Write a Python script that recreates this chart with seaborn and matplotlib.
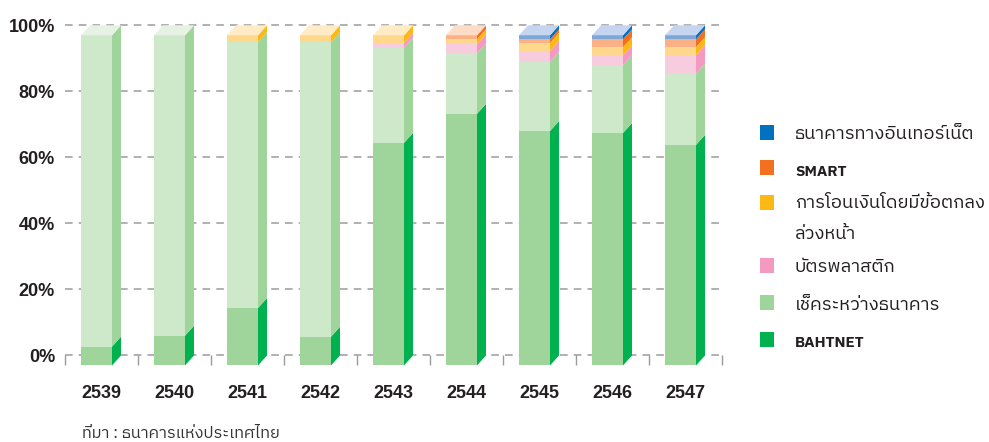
import numpy as np
import pandas as pd
import matplotlib
matplotlib.use("Agg")
import matplotlib.pyplot as plt
from matplotlib import font_manager
from matplotlib.ft2font import FT2Font
from matplotlib.patches import Polygon, Rectangle
import seaborn as sns

# Share of interbank payment value by system (percent of total)
years = ["2539", "2540", "2541", "2542", "2543", "2544", "2545", "2546", "2547"]
bahtnet = [5.7, 9.0, 17.4, 8.7, 67.4, 76.2, 71.0, 70.4, 66.8]
cheque = [94.3, 91.0, 80.6, 89.2, 28.8, 18.3, 21.0, 20.6, 21.6]
plastic = [0.0, 0.0, 0.0, 0.0, 1.4, 2.8, 3.2, 2.9, 5.6]
transfer = [0.0, 0.0, 2.0, 2.1, 2.4, 1.5, 2.5, 2.5, 2.4]
smart = [0.0, 0.0, 0.0, 0.0, 0.0, 1.2, 1.1, 2.4, 2.4]
internet = [0.0, 0.0, 0.0, 0.0, 0.0, 0.0, 1.2, 1.2, 1.2]

labels = ["BAHTNET", "เช็คระหว่างธนาคาร", "บัตรพลาสติก",
          ["การโอนเงินโดยมีข้อตกลง", "ล่วงหน้า"], "SMART", "ธนาคารทางอินเทอร์เน็ต"]
source_note = "ที่มา : ธนาคารแห่งประเทศไทย"

# bottom-to-top stacking order
stack = [bahtnet, cheque, plastic, transfer, smart, internet]
side_colors = ["#00B14F", "#9FD49B", "#F49AC1", "#FDB913", "#F37021", "#0070C0"]
front_colors = ["#9FD49B", "#CEE8CA", "#F8CCDF", "#FFD88C", "#FBB185", "#7BA7D9"]
top_colors = ["#CFE9CB", "#E6F3E4", "#FCE3EE", "#FFEBC6", "#FDDCC6", "#C5D5EF"]


def thai_family():
    found = []
    for fe in font_manager.fontManager.ttflist:
        try:
            cmap = FT2Font(fe.fname).get_charmap()
        except Exception:
            continue
        if 0x0E01 in cmap and 0x0E44 in cmap and 0x0E2A in cmap:
            score = 0
            if "thai" in fe.name.lower():
                score += 2
            if fe.weight in (400, "normal", "regular"):
                score += 1
            if fe.style == "normal":
                score += 1
            found.append((score, fe.name))
    if found:
        found.sort(key=lambda t: -t[0])
        return found[0][1]
    return None


sns.set_theme(style="white")
thai = thai_family()
latin = "Liberation Sans"
fams = ([thai] if thai else []) + [latin, "DejaVu Sans"]
plt.rcParams["font.family"] = [latin, "DejaVu Sans"]

TXT = "#231F20"
W, H = 989, 442
fig = plt.figure(figsize=(W / 100, H / 100), dpi=100)
ax = fig.add_axes([64.5 / W, 1 - 368.7 / H, 657 / W, (368.7 - 22.0) / H])

FW = 31 / 73      # front face width (category units)
DX = 9 / 73       # depth offset in x
DY = 10 / 3.302   # depth offset in y (percent units)

cum = np.cumsum(np.array(stack), axis=0)
n = len(years)

# front faces: overlapping cumulative bars, top segment first
for k in reversed(range(len(stack))):
    df = pd.DataFrame({"year": years, "value": cum[k]})
    sns.barplot(data=df, x="year", y="value", color=front_colors[k], width=FW,
                saturation=1, errorbar=None, linewidth=0, zorder=2, ax=ax)
    for p in ax.containers[-1]:
        p.set_x(p.get_x() - DX / 2)
        p.set_y(-DY)

# side and top faces
for i in range(n):
    left = i - (FW + DX) / 2
    xr = left + FW
    top_k = max(k for k in range(len(stack)) if stack[k][i] > 0)
    for k in range(len(stack)):
        if stack[k][i] <= 0:
            continue
        b = cum[k][i] - stack[k][i]
        t = cum[k][i]
        ax.add_patch(Polygon([(xr, b - DY), (xr, t - DY), (xr + DX, t), (xr + DX, b)],
                             closed=True, facecolor=side_colors[k], edgecolor="none",
                             zorder=2, clip_on=False))
    tot = cum[-1][i]
    ax.add_patch(Polygon([(left, tot - DY), (xr, tot - DY), (xr + DX, tot), (left + DX, tot)],
                         closed=True, facecolor=top_colors[top_k], edgecolor="none",
                         zorder=2, clip_on=False))

ax.set_xlim(-0.5, n - 0.5)
ax.set_ylim(-4, 101)
ax.set_yticks(range(0, 101, 20))
ax.set_yticklabels([f"{v}%" for v in range(0, 101, 20)])
ax.set_xlabel("")
ax.set_ylabel("")
ax.set_axisbelow(True)
ax.grid(False)
ax.yaxis.grid(True, color="#9b9b9b", linestyle=(0, (5, 4)), linewidth=1.1, zorder=0.5)
ax.vlines(np.arange(-0.5, n), -2.9, 0, color="#9b9b9b", linewidth=1.0,
          zorder=0.5, clip_on=False)
for s in ax.spines.values():
    s.set_visible(False)
ax.tick_params(axis="y", length=0, pad=6.8, labelsize=13, labelcolor=TXT)
ax.tick_params(axis="x", length=0, pad=12, labelsize=13, labelcolor=TXT)
for lab in ax.get_yticklabels() + ax.get_xticklabels():
    lab.set_fontweight("bold")
ax.set_facecolor("white")

# legend
rows = [  # (series index, square centre y, text baselines y)
    (5, 132.5, [139.0]),
    (4, 167.5, [176.0]),
    (3, 202.5, [207.5, 239.0]),
    (2, 265.5, [272.5]),
    (1, 302.5, [310.0]),
    (0, 339.5, [346.7]),
]
for k, cy, bases in rows:
    fig.add_artist(Rectangle((760 / W, 1 - (cy + 7.5) / H), 14 / W, 15 / H,
                             transform=fig.transFigure, facecolor=side_colors[k],
                             edgecolor="none"))
    lines = labels[k] if isinstance(labels[k], list) else [labels[k]]
    for txt, base in zip(lines, bases):
        bold = txt.isascii()
        fig.text(795 / W, 1 - base / H, txt, ha="left", va="baseline",
                 fontsize=11 if bold else 13.2, fontweight="bold" if bold else "normal",
                 color=TXT, family=fams)

fig.text(82 / W, 1 - 438 / H, source_note, ha="left", va="baseline",
         fontsize=11.8, color="#333333", family=fams)

fig.savefig("out.png", dpi=100, facecolor="white")
